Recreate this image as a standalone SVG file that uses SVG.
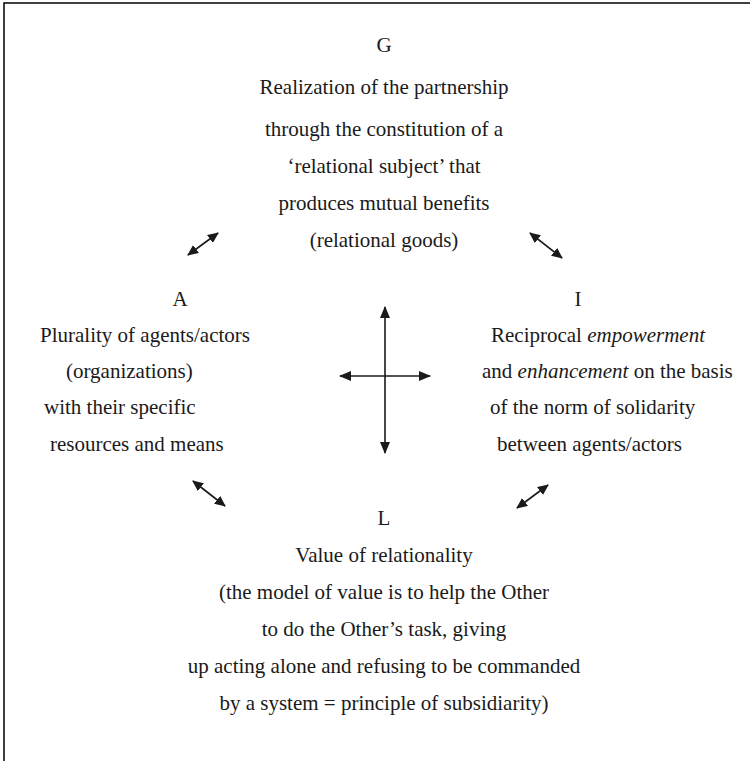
<svg xmlns="http://www.w3.org/2000/svg" width="750" height="761" viewBox="0 0 750 761">
  <style>
    text { font-family: "Liberation Serif", "Times New Roman", serif; font-size: 21px; fill: #1a1a1a; }
    .c { text-anchor: middle; }
    .i { font-style: italic; }
    .frame { fill: none; stroke: #000; stroke-width: 1.5; }
    .arr { stroke: #1a1a1a; stroke-width: 1.6; fill: none; marker-start: url(#head); marker-end: url(#head); }
    .arr-s { stroke: #1a1a1a; stroke-width: 1.6; fill: none; marker-start: url(#headS); marker-end: url(#headS); }
  </style>
  <defs>
    <marker id="head" viewBox="0 0 12 10" refX="11" refY="5" markerWidth="12" markerHeight="10" markerUnits="userSpaceOnUse" orient="auto-start-reverse">
      <path d="M0,0 L12,5 L0,10 z" fill="#1a1a1a"/>
    </marker>
    <marker id="headS" viewBox="0 0 11 10" refX="10" refY="5" markerWidth="11" markerHeight="10" markerUnits="userSpaceOnUse" orient="auto-start-reverse">
      <path d="M0,0 L11,5 L0,10 z" fill="#1a1a1a"/>
    </marker>
  </defs>

  <rect width="750" height="761" fill="#fff"/>
  <!-- open frame: top and left edges -->
  <path class="frame" d="M4,761 V3 H750"/>

  <g id="node-G">
    <text class="c" x="384" y="52">G</text>
    <text class="c" x="384" y="94">Realization of the partnership</text>
    <text class="c" x="384" y="136">through the constitution of a</text>
    <text class="c" x="384" y="173">‘relational subject’ that</text>
    <text class="c" x="384" y="210">produces mutual benefits</text>
    <text class="c" x="384" y="247">(relational goods)</text>
  </g>

  <g id="node-A">
    <text class="c" x="180" y="306">A</text>
    <text x="40" y="342">Plurality of agents/actors</text>
    <text x="66" y="378">(organizations)</text>
    <text x="44" y="414">with their specific</text>
    <text x="50" y="451">resources and means</text>
  </g>

  <g id="node-I">
    <text class="c" x="578" y="306">I</text>
    <text x="491" y="342">Reciprocal <tspan class="i">empowerment</tspan></text>
    <text x="482" y="378">and <tspan class="i">enhancement</tspan> on the basis</text>
    <text x="490" y="414">of the norm of solidarity</text>
    <text x="497" y="451">between agents/actors</text>
  </g>

  <g id="node-L">
    <text class="c" x="384" y="525">L</text>
    <text class="c" x="384" y="562">Value of relationality</text>
    <text class="c" x="384" y="599">(the model of value is to help the Other</text>
    <text class="c" x="384" y="636">to do the Other’s task, giving</text>
    <text class="c" x="384" y="673">up acting alone and refusing to be commanded</text>
    <text class="c" x="384" y="710">by a system = principle of subsidiarity)</text>
  </g>

  <g id="connectors">
    <!-- central cross -->
    <line class="arr" x1="385" y1="307" x2="385" y2="453"/>
    <line class="arr" x1="340" y1="376" x2="430" y2="376"/>
    <!-- diagonal double arrows -->
    <line class="arr-s" x1="188" y1="255" x2="218" y2="233"/>
    <line class="arr-s" x1="530" y1="233" x2="562" y2="258"/>
    <line class="arr-s" x1="193" y1="481" x2="225" y2="506"/>
    <line class="arr-s" x1="517" y1="508" x2="548" y2="485"/>
  </g>
</svg>
